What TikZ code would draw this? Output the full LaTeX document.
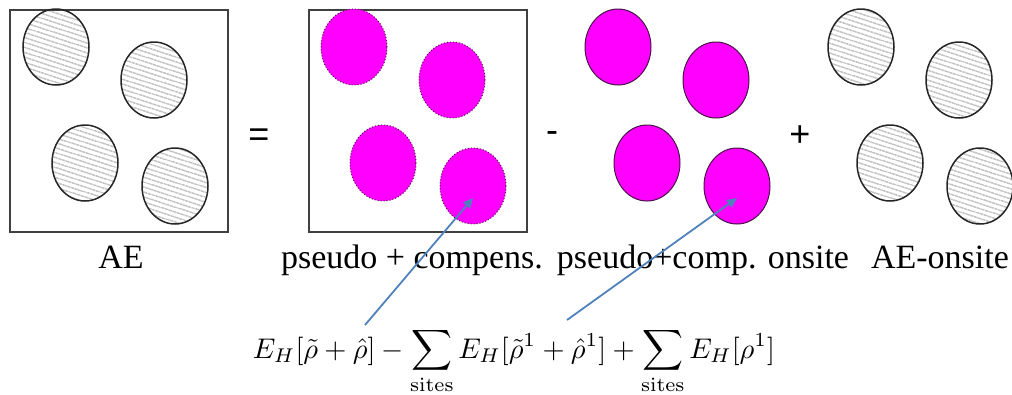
\documentclass[tikz,border=0pt]{standalone}
\usepackage[no-math]{fontspec}
\usepackage{amsmath}
\usepackage{graphicx}
\newfontfamily\labelfont{Liberation Serif}
\newfontfamily\signfont{Liberation Sans}
\usetikzlibrary{shapes.geometric,patterns.meta,arrows.meta,positioning}
\definecolor{blobpink}{RGB}{255,0,255}
\definecolor{blobedge}{RGB}{70,20,70}
\definecolor{arrowblue}{RGB}{79,129,189}
\newcommand{\labelsize}{\fontsize{34}{40}\selectfont}

\begin{document}
\begin{tikzpicture}[x=1pt, y=-1pt,
  blob/.style={ellipse, minimum width=66pt, minimum height=76pt, inner sep=0pt},
  hatched/.style={blob, draw=black!85, line width=1.5pt,
    pattern={Lines[angle=-18, distance=4pt, line width=0.7pt]}, pattern color=black!65},
  pinkdot/.style={blob, fill=blobpink, draw=blobedge, line width=1pt, dotted},
  pinksolid/.style={blob, fill=blobpink, draw=blobedge, line width=1pt},
  frame/.style={draw=black!75, line width=1.3pt, minimum width=218pt, minimum height=222pt, inner sep=0pt},
  caption/.style={font=\labelfont\labelsize, anchor=base, inner sep=0pt},
  sign/.style={font=\signfont\fontsize{36}{40}\selectfont, inner sep=0pt},
  pointer/.style={draw=arrowblue, line width=1.8pt, -{Triangle[length=10pt, width=9pt]}}]
\useasboundingbox (0,0) rectangle (1012,394);

% frames
\node[frame] (aebox) at (119,121) {};
\node[frame] (pcbox) at (418,121) {};

% the four sites of each density
\foreach \i/\dx/\dy in {1/0/0, 2/98/33, 3/29/116, 4/119/139} {
  \node[hatched] (ae\i) at (56+\dx,47+\dy) {};
  \node[pinkdot] (pc\i) at (354+\dx,47+\dy) {};
  \node[pinksolid] (os\i) at (618+\dx,47+\dy) {};
  \node[hatched] (aeos\i) at (861+\dx,47+\dy) {};
}

% signs
\node[sign] (eq) at (259,138) {=};
\node[sign] (minus) at (552,137) {-};
\node[sign] (plus) at (800,136) {+};

% captions
\node[caption] (aelabel) at (121,268) {AE};
\node[caption] (pclabel) at (412,268) {pseudo + compens.};
\node[caption] (oslabel) at (703,268) {pseudo+comp. onsite};
\node[caption] (aeoslabel) at (940,268) {AE-onsite};

% energy expression
\node[anchor=base, inner sep=0pt] (hartree) at (514,358)
  {\resizebox{522pt}{!}{$\displaystyle E_H[\tilde\rho+\hat\rho] - \sum_{\mathrm{sites}} E_H[\tilde\rho^1+\hat\rho^1] + \sum_{\mathrm{sites}} E_H[\rho^1]$}};

\coordinate (tail1) at (365,325);
\coordinate (tail2) at (567,320);
\coordinate (tip1) at ([yshift=-12pt]pc4.center);
\coordinate (tip2) at ([yshift=-12pt]os4.center);
\draw[pointer] (tail1) -- (tip1);
\draw[pointer] (tail2) -- (tip2);
\end{tikzpicture}
\end{document}
